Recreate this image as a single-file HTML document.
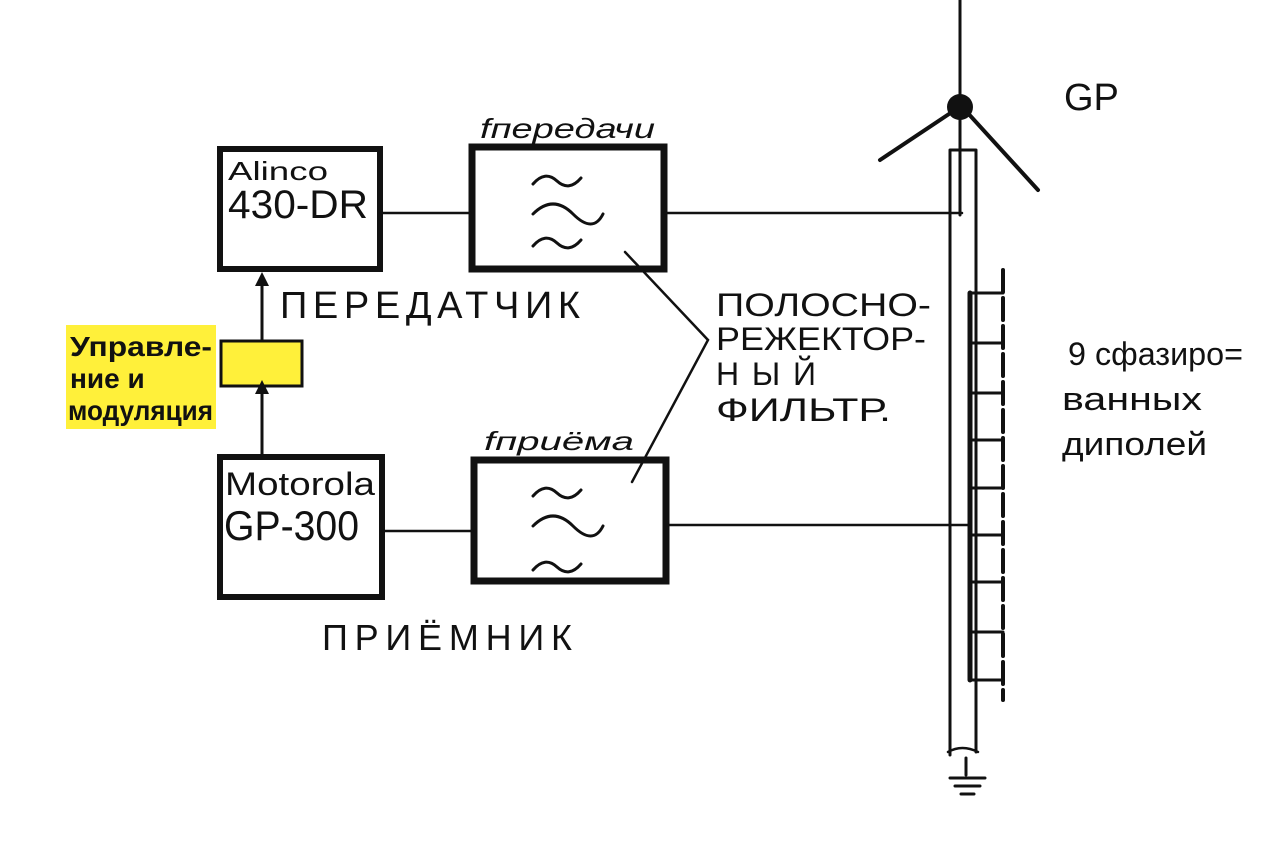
<!DOCTYPE html>
<html><head><meta charset="utf-8"><style>
body{margin:0;background:#fff}
svg{display:block}
text{font-family:"Liberation Sans","DejaVu Sans",sans-serif;fill:#111}
</style></head><body>
<svg width="1280" height="852" viewBox="0 0 1280 852">
<g stroke="#111" fill="none" stroke-linecap="round">
<rect x="220" y="149" width="160" height="120" stroke-width="6"/>
<rect x="472" y="147" width="192" height="122" stroke-width="7"/>
<rect x="220" y="457" width="162" height="140" stroke-width="6"/>
<rect x="474" y="460" width="192" height="121" stroke-width="7"/>
<rect x="221" y="341" width="81" height="45" stroke-width="3" fill="#fff03a"/>
<path d="M381 213H470M665 213H962M383 531H472M668 525H968" stroke-width="2.5"/>
<path d="M262 455V386M262 341V278" stroke-width="3"/>
<g stroke-width="3">
<path d="M533 184q12-14 24-3t24-3M533 214q20-20 40 0t30 0M533 246q12-14 24-3t24-3"/>
<path d="M533 496q12-14 24-3t24-3M533 526q20-20 40 0t30 0M533 570q12-14 24-3t24-3"/>
</g>
<path d="M625 252L708 340L632 482" stroke-width="2.5"/>
<path d="M960 0V105" stroke-width="3"/>
<path d="M950 150V755M976 150V752M950 150H976M960 105V215" stroke-width="3"/>
<path d="M948 752q14 -8 30 0" stroke-width="2.5"/>
<path d="M966 758V775M950 778H985M955 786H980M961 794H974" stroke-width="3"/>
<path d="M955 110L880 160M965 110L1038 190" stroke-width="4"/>
<path d="M970 293V680" stroke-width="5"/>
<path d="M1003 270V700" stroke-width="4" stroke-dasharray="22 6"/>
<path d="M970 293H1003M970 343H1003M970 393H1003M970 440H1003M970 488H1003M970 535H1003M970 582H1003M970 632H1003M970 680H1003" stroke-width="3"/>
</g>
<circle cx="960" cy="107" r="13" fill="#111"/>
<path d="M262 272l-7 14h14z M262 380l-7 14h14z" fill="#111"/>
<rect x="66" y="325" width="150" height="104" fill="#fff03a"/>
<text x="70" y="356" font-size="28" font-weight="bold" textLength="142" lengthAdjust="spacingAndGlyphs">Управле-</text>
<text x="70" y="388" font-size="28" font-weight="bold">ние  и</text>
<text x="68" y="420" font-size="28" font-weight="bold" textLength="145" lengthAdjust="spacingAndGlyphs">модуляция</text>
<text x="228" y="180" font-size="26" textLength="100" lengthAdjust="spacingAndGlyphs">Alinco</text>
<text x="228" y="218" font-size="40" textLength="140" lengthAdjust="spacingAndGlyphs">430-DR</text>
<text x="225" y="495" font-size="32" textLength="150" lengthAdjust="spacingAndGlyphs">Motorola</text>
<text x="224" y="540" font-size="42" textLength="135" lengthAdjust="spacingAndGlyphs">GP-300</text>
<text x="480" y="138" font-size="28" font-style="italic" textLength="175" lengthAdjust="spacingAndGlyphs">fпередачи</text>
<text x="484" y="450" font-size="26" font-style="italic" textLength="150" lengthAdjust="spacingAndGlyphs">fприёма</text>
<text x="280" y="318" font-size="38" textLength="300" lengthAdjust="spacing">ПЕРЕДАТЧИК</text>
<text x="322" y="650" font-size="36" textLength="250" lengthAdjust="spacing">ПРИЁМНИК</text>
<text x="716" y="316" font-size="32" textLength="215" lengthAdjust="spacingAndGlyphs">ПОЛОСНО-</text>
<text x="716" y="350" font-size="32" textLength="210" lengthAdjust="spacingAndGlyphs">РЕЖЕКТОР-</text>
<text x="716" y="385" font-size="32" textLength="100" lengthAdjust="spacing">НЫЙ</text>
<text x="716" y="421" font-size="32" textLength="175" lengthAdjust="spacingAndGlyphs">ФИЛЬТР.</text>
<text x="1064" y="110" font-size="38">GP</text>
<text x="1068" y="365" font-size="32" textLength="175" lengthAdjust="spacingAndGlyphs">9 сфазиро=</text>
<text x="1062" y="410" font-size="32" textLength="140" lengthAdjust="spacingAndGlyphs">ванных</text>
<text x="1062" y="455" font-size="32" textLength="145" lengthAdjust="spacingAndGlyphs">диполей</text>
</svg>
</body></html>
